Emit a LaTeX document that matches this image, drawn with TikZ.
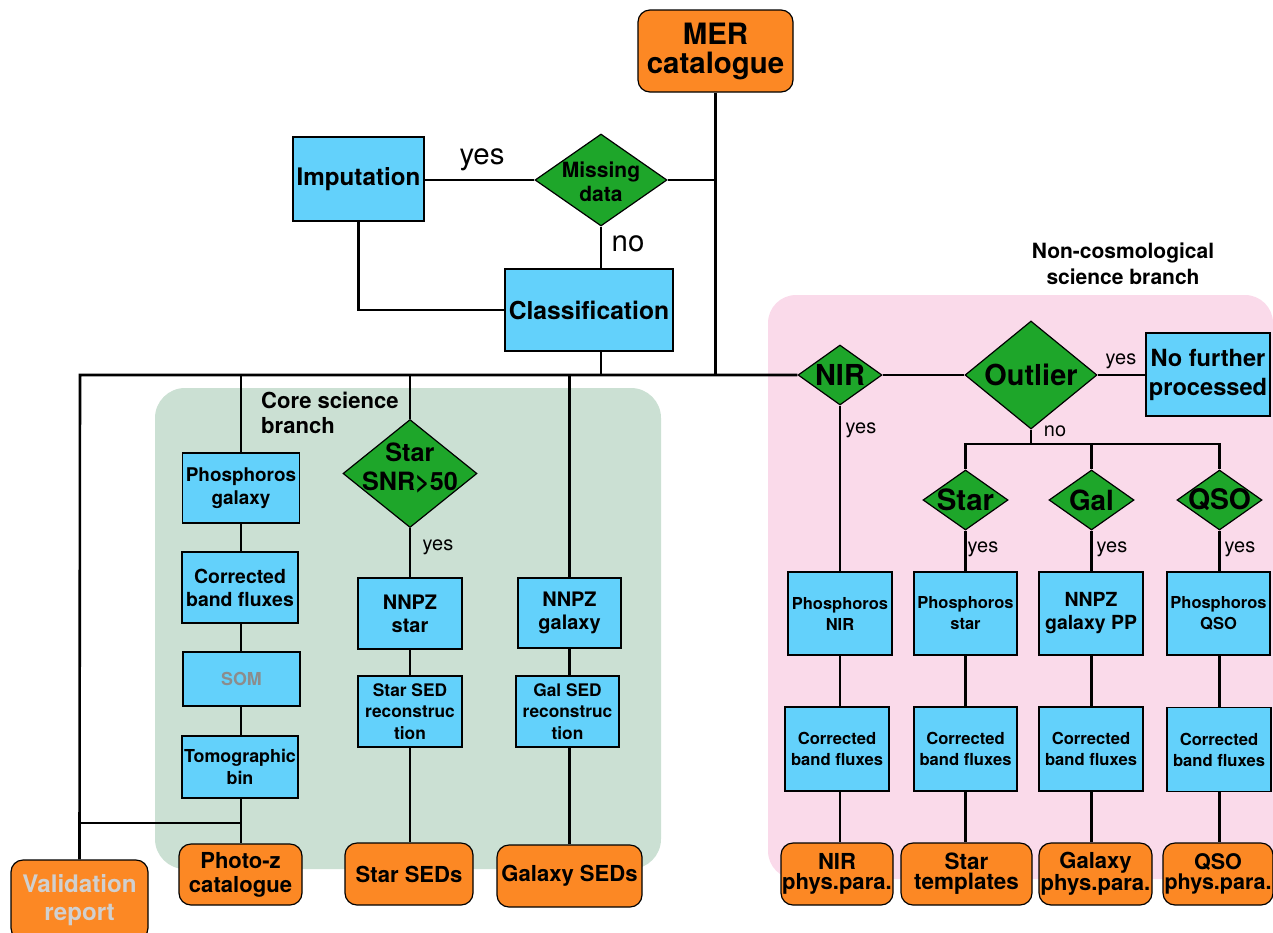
\documentclass[tikz,border=0pt]{standalone}
\usepackage{fontspec}
\setmainfont{TeX Gyre Heros}
\usetikzlibrary{shapes.geometric}
\definecolor{boxblue}{RGB}{99,209,251}
\definecolor{dgreen}{RGB}{30,166,42}
\definecolor{orng}{RGB}{252,136,36}
\definecolor{corefill}{RGB}{203,224,211}
\definecolor{pinkfill}{RGB}{250,218,234}
\definecolor{somgray}{RGB}{140,140,140}
\definecolor{valgray}{RGB}{208,208,208}
\newcommand{\myfs}[2]{\fontsize{\fpeval{#1*1.05}}{#2}\selectfont}
\begin{document}
\begin{tikzpicture}[x=1pt,y=-1pt,
  conn/.style={line width=2.6pt},
  sz/.style 2 args={minimum width=#1, minimum height=#2},
  proc/.style={draw, line width=1.2pt, fill=boxblue, inner sep=0pt, align=center},
  dec/.style={diamond, draw, line width=1.2pt, fill=dgreen, inner sep=0pt},
  term/.style={draw, line width=1.2pt, fill=orng, rounded corners=12pt, inner sep=0pt, align=center},
  dtext/.style={align=center, inner sep=0pt},
  lab/.style={inner sep=0pt}
]
\useasboundingbox (0,0) rectangle (1273,932);
% background branches
\fill[corefill, rounded corners=30pt] (155,388) rectangle (661,869);
\fill[pinkfill, rounded corners=28pt] (768,295) rectangle (1273,879);
\node[anchor=west, align=left, inner sep=0pt, font=\bfseries\myfs{21}{25}] (coretitle) at (261,413) {Core science\\branch};
\node[align=center, inner sep=0pt, font=\bfseries\myfs{20}{26}] (noncosmo) at (1123,264) {Non-cosmological\\science branch};

% top part
\node[term, sz={155}{82}, font=\bfseries\myfs{28}{29}] (mer) at (715.5,51) {MER\\catalogue};
\node[dec, sz={132}{92}, label={[dtext, font=\bfseries\myfs{20}{24}, yshift=-2pt]center:Missing\\data}] (md) at (601,180) {};
\node[proc, sz={131}{84}, font=\bfseries\myfs{23}{27}] (imp) at (358.5,179) {Imputation};
\node[proc, sz={168}{82}, font=\bfseries\myfs{23.5}{28}] (cls) at (589,310) {Classification};

% core science branch
\node[proc, sz={117}{70}, font=\bfseries\myfs{18}{23}] (pg) at (241,488) {Phosphoros\\galaxy};
\node[proc, sz={116}{71}, font=\bfseries\myfs{18.5}{23}] (cbf) at (240,587.5) {Corrected\\band fluxes};
\node[proc, sz={117}{54}, font=\bfseries\myfs{17}{21}, text=somgray] (som) at (241.5,679) {SOM};
\node[proc, sz={116}{62}, font=\bfseries\myfs{17}{22}] (tomo) at (240,767) {Tomographic\\bin};
\node[term, sz={123}{61}, font=\bfseries\myfs{21}{24}] (pz) at (240.5,874.5) {Photo-z\\catalogue};
\node[term, sz={137}{80}, font=\bfseries\myfs{23}{28}, text=valgray] (val) at (79.5,900) {Validation\\report};

\node[dec, sz={134}{108}, label={[dtext, font=\bfseries\myfs{24}{29}, yshift=6pt]center:Star\\SNR>50}] (ssnr) at (410,473.5) {};
\node[proc, sz={104}{71}, font=\bfseries\myfs{19}{23}] (nnpzs) at (410,613.5) {NNPZ\\star};
\node[proc, sz={104}{71}, font=\bfseries\myfs{16.5}{21.5}] (ssed) at (410,711.5) {Star SED\\reconstruc\\tion};
\node[term, sz={128}{62}, font=\bfseries\myfs{21}{24}] (seds) at (409,874) {Star SEDs};

\node[proc, sz={103}{70}, font=\bfseries\myfs{19}{23}] (nnpzg) at (569.5,613) {NNPZ\\galaxy};
\node[proc, sz={103}{71}, font=\bfseries\myfs{16.5}{21.5}] (gsed) at (567.5,711.5) {Gal SED\\reconstruc\\tion};
\node[term, sz={145}{62}, font=\bfseries\myfs{21}{24}] (gseds) at (569.5,876) {Galaxy SEDs};

% non-cosmological branch
\node[dec, sz={84}{60}, label={[dtext, font=\bfseries\myfs{27.5}{30}]center:NIR}] (nir) at (840,375) {};
\node[dec, sz={132}{108}, label={[dtext, font=\bfseries\myfs{27.5}{30}]center:Outlier}] (out) at (1031,375) {};
\node[proc, sz={124}{83}, font=\bfseries\myfs{22.5}{29}] (nfp) at (1208,374.5) {No further\\processed};

\node[dec, sz={85}{60}, label={[dtext, font=\bfseries\myfs{28}{30}]center:Star}] (dstar) at (965.5,500) {};
\node[dec, sz={85}{60}, label={[dtext, font=\bfseries\myfs{26.5}{30}]center:Gal}] (dgal) at (1091.5,500) {};
\node[dec, sz={85}{60}, label={[dtext, font=\bfseries\myfs{27}{30}]center:QSO}] (dqso) at (1219.5,500) {};

\node[proc, sz={104}{83}, font=\bfseries\myfs{15.7}{21}] (pnir) at (840,613.5) {Phosphoros\\NIR};
\node[proc, sz={103}{83}, font=\bfseries\myfs{15.7}{21}] (pstar) at (965.5,613.5) {Phosphoros\\star};
\node[proc, sz={104}{83}, font=\bfseries\myfs{18.5}{23}] (nnpzpp) at (1091,613.5) {NNPZ\\galaxy PP};
\node[proc, sz={103}{83}, font=\bfseries\myfs{15.7}{21}] (pqso) at (1218.5,613.5) {Phosphoros\\QSO};

\node[proc, sz={104}{84}, font=\bfseries\myfs{15.8}{21}] (cnir) at (837,749) {Corrected\\band fluxes};
\node[proc, sz={103}{84}, font=\bfseries\myfs{15.8}{21}] (cstar) at (965.5,749) {Corrected\\band fluxes};
\node[proc, sz={104}{84}, font=\bfseries\myfs{15.8}{21}] (cgal) at (1091,749) {Corrected\\band fluxes};
\node[proc, sz={104}{84}, font=\bfseries\myfs{15.8}{21}] (cqso) at (1219,749.5) {Corrected\\band fluxes};

\node[term, sz={112}{62}, font=\bfseries\myfs{21}{20}] (tnir) at (837,874) {NIR\\phys.para.};
\node[term, sz={131}{62}, font=\bfseries\myfs{21.4}{20}] (tstar) at (966.5,874) {Star\\templates};
\node[term, sz={113}{62}, font=\bfseries\myfs{21}{20}] (tgal) at (1095.5,874) {Galaxy\\phys.para.};
\node[term, sz={110}{62}, font=\bfseries\myfs{20.5}{20}] (tqso) at (1218,874) {QSO\\phys.para.};

% junction coordinates
\coordinate (mainL) at (80,375);
\coordinate (vj) at (80,823);
\coordinate (split) at (1031,444);

% connectors top
\draw[conn] (mer.south) -- (mer.south |- mainL);
\draw[conn] (md.east) -- (md.east -| mer.south);
\draw[conn] (imp.east) -- (imp.east |- md.west) -- (md.west);
\draw[conn] (md.south) -- (md.south |- cls.north);
\draw[conn] (imp.south) -- (imp.south |- cls.west) -- (cls.west);
\draw[conn] (md.south |- cls.south) -- (md.south |- mainL);
\draw[conn] (val.north) -- (mainL) -- (nir.west);

% core branch connectors
\draw[conn] (pg.north |- mainL) -- (pg.north);
\draw[conn] (pg.south) -- (pg.south |- cbf.north);
\draw[conn] (pg.south |- cbf.south) -- (pg.south |- som.north);
\draw[conn] (pg.south |- som.south) -- (pg.south |- tomo.north);
\draw[conn] (pg.south |- tomo.south) -- (pg.south |- pz.north);
\draw[conn] (vj) -- (vj -| pg.south);
\draw[conn] (ssnr.north |- mainL) -- (ssnr.north);
\draw[conn] (ssnr.south) -- (ssnr.south |- nnpzs.north);
\draw[conn] (ssnr.south |- nnpzs.south) -- (ssnr.south |- ssed.north);
\draw[conn] (ssnr.south |- ssed.south) -- (ssnr.south |- seds.north);
\draw[conn] (nnpzg.north |- mainL) -- (nnpzg.north);
\draw[conn] (nnpzg.south) -- (nnpzg.south |- gsed.north);
\draw[conn] (nnpzg.south |- gsed.south) -- (nnpzg.south |- gseds.north);

% non-cosmological connectors
\draw[conn] (nir.east) -- (out.west);
\draw[conn] (out.east) -- (out.east -| nfp.west);
\draw[conn] (out.south) -- (split);
\draw[conn] (dstar.north) -- (dstar.north |- split) -- (dqso.north |- split) -- (dqso.north);
\draw[conn] (dgal.north |- split) -- (dgal.north);
\draw[conn] (nir.south) -- (nir.south |- pnir.north);
\draw[conn] (nir.south |- pnir.south) -- (nir.south |- cnir.north);
\draw[conn] (nir.south |- cnir.south) -- (nir.south |- tnir.north);
\draw[conn] (dstar.south) -- (dstar.south |- pstar.north);
\draw[conn] (dstar.south |- pstar.south) -- (dstar.south |- cstar.north);
\draw[conn] (dstar.south |- cstar.south) -- (dstar.south |- tstar.north);
\draw[conn] (dgal.south) -- (dgal.south |- nnpzpp.north);
\draw[conn] (dgal.south |- nnpzpp.south) -- (dgal.south |- cgal.north);
\draw[conn] (dgal.south |- cgal.south) -- (dgal.south |- tgal.north);
\draw[conn] (dqso.south) -- (dqso.south |- pqso.north);
\draw[conn] (dqso.south |- pqso.south) -- (dqso.south |- cqso.north);
\draw[conn] (dqso.south |- cqso.south) -- (dqso.south |- tqso.north);

% yes / no labels
\node[lab, font=\myfs{28}{30}] (lyes1) at (482,160) {yes};
\node[lab, font=\myfs{28}{30}] (lno1) at (628,244) {no};
\node[lab, font=\myfs{19}{22}] (lyes2) at (438,547) {yes};
\node[lab, font=\myfs{19}{22}] (lyes3) at (861,430) {yes};
\node[lab, font=\myfs{19}{22}] (lyes4) at (1121,361) {yes};
\node[lab, font=\myfs{19}{22}] (lno2) at (1055,431) {no};
\node[lab, font=\myfs{19}{22}] (lyes5) at (983,549) {yes};
\node[lab, font=\myfs{19}{22}] (lyes6) at (1112,549) {yes};
\node[lab, font=\myfs{19}{22}] (lyes7) at (1240,549) {yes};
\end{tikzpicture}
\end{document}
